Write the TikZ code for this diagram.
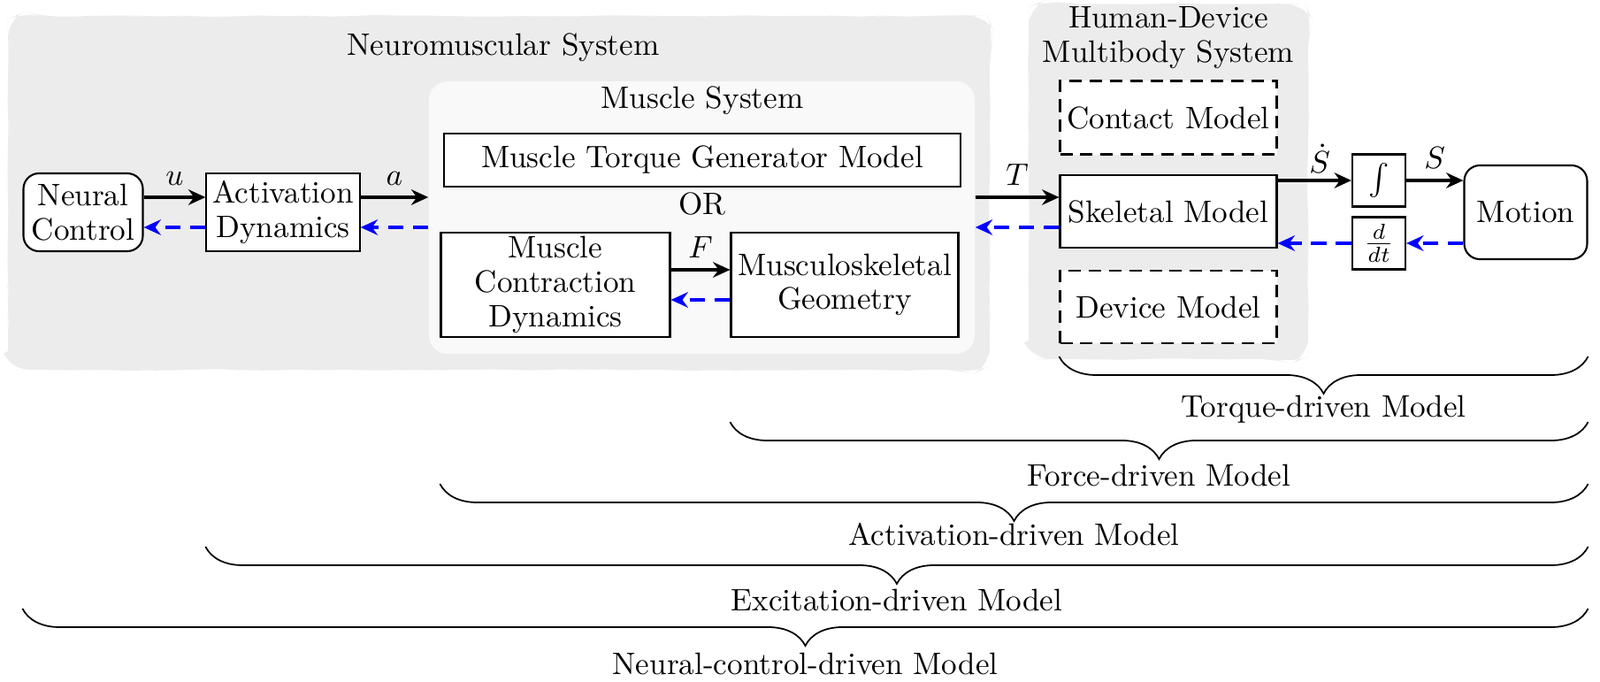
\documentclass[tikz,border=0pt]{standalone}
\usepackage{tikz}
\usetikzlibrary{arrows.meta, positioning, decorations.pathreplacing, decorations.pathmorphing}
\usepackage{amsmath}
\tikzset{%
	block/.style={
		draw,
		fill=white,
		line width=0.6pt,
		inner xsep=2pt,
		inner ysep=1pt,
		align=center,
		font=\linespread{0.92}\selectfont
	},
	dashed block/.style={
		block,
		dash pattern=on 4pt off 2.5pt
	},
	round block/.style={
		block,
		rounded corners=5pt
	},
	signal/.style={
		-{Stealth[length=5.5pt,width=5pt,inset=1.8pt]},
		line width=1.1pt
	},
	feedback/.style={
		signal,
		blue,
		dash pattern=on 5pt off 3pt
	},
	system area/.style={
		fill=gray!15,
		decorate,
		decoration={random steps, segment length=5pt, amplitude=0.3pt},
		rounded corners=6pt
	},
	model brace/.style={
		decorate,
		decoration={brace, mirror, amplitude=0.42cm},
		line width=0.5pt
	},
}

\begin{document}
\begin{tikzpicture}
	\useasboundingbox (0,0) rectangle (18.09,7.70);

	% Draw the system areas
	\fill[system area] (0.09,3.52) rectangle (11.19,7.52);
	\fill[system area] (11.63,3.64) rectangle (14.79,7.65);
	\node (nms) at (5.69,7.16) {Neuromuscular System};
	\node[align=center, font=\linespread{0.92}\selectfont] (hdm) at (13.21,7.27) {Human-Device\\Multibody System};

	% Draw the muscle system
	\node[fill=gray!5, rounded corners=6pt, minimum width=6.17cm, minimum height=3.08cm] (ms) at (7.935,5.24) {};
	\node (mstitle) at (7.94,6.56) {Muscle System};
	\node[block, minimum width=5.84cm, minimum height=0.60cm] (mtg) at (7.94,5.89) {Muscle Torque Generator Model};
	\node (or) at (7.94,5.40) {OR};
	\node[block, minimum width=2.59cm, minimum height=1.18cm] (mcd) at (6.28,4.48) {Muscle\\Contraction\\Dynamics};
	\node[block, minimum width=2.57cm, minimum height=1.18cm] (mg) at (9.55,4.48) {Musculoskeletal\\Geometry};

	% Draw the neural blocks
	\node[round block, minimum width=1.35cm, minimum height=0.88cm] (nc) at (0.94,5.30) {Neural\\Control};
	\node[block, minimum width=1.73cm, minimum height=0.88cm] (ad) at (3.20,5.30) {Activation\\Dynamics};

	% Draw the multibody blocks
	\node[dashed block, minimum width=2.45cm, minimum height=0.83cm] (cm) at (13.21,6.37) {Contact Model};
	\node[block, minimum width=2.45cm, minimum height=0.82cm] (sk) at (13.21,5.31) {Skeletal Model};
	\node[dashed block, minimum width=2.45cm, minimum height=0.82cm] (dm) at (13.21,4.23) {Device Model};

	% Draw the integrator, derivative and motion
	\node[block, minimum width=0.60cm, minimum height=0.59cm] (int) at (15.59,5.66) {$\int$};
	\node[block, minimum width=0.60cm, minimum height=0.59cm] (ddt) at (15.59,4.95) {$\frac{d}{dt}$};
	\node[round block, minimum width=1.39cm, minimum height=1.06cm] (mo) at (17.25,5.30) {Motion};

	% Draw the forward and feedback arrows
	\draw[signal] ([yshift=0.17cm]nc.east) -- ([yshift=0.17cm]ad.west) node[midway, above] {$u$};
	\draw[feedback] ([yshift=-0.17cm]ad.west) -- ([yshift=-0.17cm]nc.east);
	\draw[signal] ([yshift=0.17cm]ad.east) -- ([yshift=0.17cm]ad.east -| ms.west) node[midway, above] {$a$};
	\draw[feedback] ([yshift=-0.17cm]ad.east -| ms.west) -- ([yshift=-0.17cm]ad.east);
	\draw[signal] ([yshift=0.17cm]mcd.east) -- ([yshift=0.17cm]mg.west) node[midway, above] {$F$};
	\draw[feedback] ([yshift=-0.17cm]mg.west) -- ([yshift=-0.17cm]mcd.east);
	\draw[signal] ([yshift=0.16cm]sk.west -| ms.east) -- ([yshift=0.16cm]sk.west) node[midway, above] {$T$};
	\draw[feedback] ([yshift=-0.18cm]sk.west) -- ([yshift=-0.18cm]sk.west -| ms.east);
	\draw[signal] (sk.east |- int.west) -- (int.west) node[midway, above, inner sep=2pt, xshift=0.06cm] {$\dot{S}$};
	\draw[signal] (int.east) -- (int.east -| mo.west) node[midway, above] {$S$};
	\draw[feedback] (ddt.east -| mo.west) -- (ddt.east);
	\draw[feedback] (ddt.west) -- (ddt.west -| sk.east);

	% Draw the model braces
	\draw[model brace] (sk.west |- 0,3.67) -- (mo.east |- 0,3.67) node[midway, yshift=-0.6cm] {Torque-driven Model};
	\draw[model brace] (mg.west |- 0,2.93) -- (mo.east |- 0,2.93) node[midway, yshift=-0.6cm] {Force-driven Model};
	\draw[model brace] (mcd.west |- 0,2.23) -- (mo.east |- 0,2.23) node[midway, yshift=-0.57cm] {Activation-driven Model};
	\draw[model brace] (ad.west |- 0,1.52) -- (mo.east |- 0,1.52) node[midway, yshift=-0.6cm] {Excitation-driven Model};
	\draw[model brace] (nc.west |- 0,0.82) -- (mo.east |- 0,0.82) node[midway, yshift=-0.62cm] {Neural-control-driven Model};
\end{tikzpicture}
\end{document}
